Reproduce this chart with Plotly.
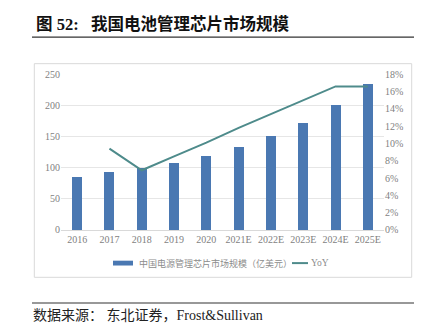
import plotly.graph_objects as go

years = ["2016", "2017", "2018", "2019", "2020", "2021E", "2022E", "2023E", "2024E", "2025E"]
market = [85, 92, 99, 107, 118, 132, 150, 172, 200, 234]
yoy = [None, 0.094, 0.069, 0.085, 0.101, 0.118, 0.134, 0.150, 0.166, 0.166]
bar_name = "中国电源管理芯片市场规模（亿美元）"
line_name = "YoY"

W, H = 425, 330
def py(p):
    return 1 - p / H
def px(p):
    return p / W

BAR_C = "#4a78b2"
LINE_C = "#4e8b8b"
tickfont = dict(family="Liberation Serif, Noto Sans CJK SC", size=10, color="#7f7f7f")

fig = go.Figure()
fig.add_trace(go.Bar(
    x=years, y=market, name=bar_name,
    marker=dict(color=BAR_C, line=dict(width=0)), width=0.31, yaxis="y"))
fig.add_trace(go.Scatter(
    x=years, y=yoy, name=line_name, mode="lines",
    line=dict(color=LINE_C, width=2), yaxis="y2"))

fig.update_layout(
    width=W, height=H,
    margin=dict(l=0, r=0, t=0, b=0),
    paper_bgcolor="white", plot_bgcolor="white",
    showlegend=False,
    xaxis=dict(domain=[px(61), px(384)], tickfont=tickfont, showline=True,
               linecolor="#d9d9d9", linewidth=1, ticks="", showgrid=False, fixedrange=True),
    yaxis=dict(domain=[py(232.7), py(71.7)], range=[0, 250], dtick=50,
               tickfont=tickfont, showgrid=True, gridcolor="#e6e6e6", gridwidth=1,
               zeroline=False, showline=False, ticks=""),
    yaxis2=dict(overlaying="y", side="right", range=[0, 0.18], dtick=0.02,
                tickformat=".0%", tickfont=tickfont, showgrid=False,
                zeroline=False, showline=False, ticks=""),
    bargap=0.0,
)

LY = 267
shapes = [
    dict(type="rect", xref="paper", yref="paper", x0=px(34.3), x1=px(411.7),
         y0=py(281.7), y1=py(60.7), line=dict(color="#d9d9d9", width=1), layer="below"),
    dict(type="line", xref="paper", yref="paper", x0=px(32), x1=px(414),
         y0=py(33.3), y1=py(33.3), line=dict(color="#333333", width=1.2)),
    dict(type="line", xref="paper", yref="paper", x0=px(32), x1=px(414),
         y0=py(308.3), y1=py(308.3), line=dict(color="#333333", width=1.2)),
    # legend swatches
    dict(type="rect", xref="paper", yref="paper", x0=px(113), x1=px(133),
         y0=py(LY + 2.5), y1=py(LY - 2.5), line=dict(width=0), fillcolor=BAR_C),
    dict(type="line", xref="paper", yref="paper", x0=px(292), x1=px(308),
         y0=py(LY), y1=py(LY), line=dict(color=LINE_C, width=2)),
]
fig.update_layout(shapes=shapes)

legfont = dict(family="Noto Sans CJK SC", size=9, color="#8c8c8c")
fig.add_annotation(xref="paper", yref="paper", x=px(137), y=py(LY), xanchor="left", yanchor="middle",
                   text=bar_name, showarrow=False, font=legfont)
fig.add_annotation(xref="paper", yref="paper", x=px(309), y=py(LY), xanchor="left", yanchor="middle",
                   text=line_name, showarrow=False,
                   font=dict(family="Liberation Serif", size=9.5, color="#8c8c8c"))

fig.add_annotation(xref="paper", yref="paper", x=px(34), y=py(20), xanchor="left", yanchor="middle",
                   text="<b>图\u00a052:\u00a0\u00a0\u00a0我国电池管理芯片市场规模</b>", showarrow=False,
                   font=dict(family="Liberation Serif, Noto Sans CJK SC", size=16.5, color="#111111"))
fig.add_annotation(xref="paper", yref="paper", x=px(31), y=py(321.7), xanchor="left", yanchor="middle",
                   text="数据来源：\u00a0东北证券，Frost&Sullivan", showarrow=False,
                   font=dict(family="Liberation Serif, Noto Sans CJK SC", size=14, color="#222222"))

fig.write_html("out.html")
